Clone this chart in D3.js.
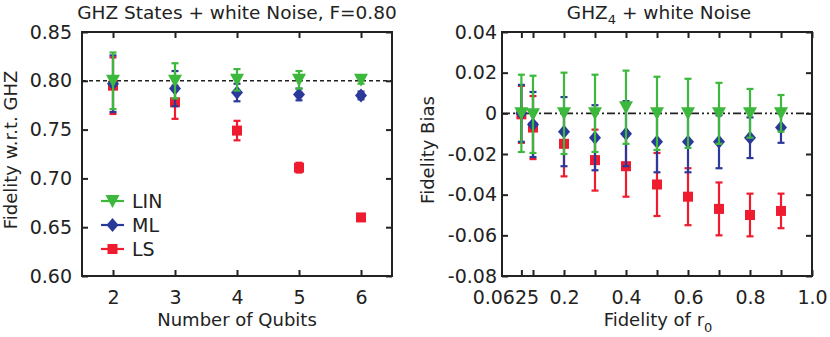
<!DOCTYPE html>
<html>
<head>
<meta charset="utf-8">
<script src="https://cdnjs.cloudflare.com/ajax/libs/d3/7.8.5/d3.min.js"></script>
<style>
    body { margin: 0; background: #fff; }
    text { font-family: "DejaVu Sans", sans-serif; fill: #222; }
</style>
</head>
<body>
<div id="main"></div>
<script>

// left panel: GHZ states, F = 0.80
const qubits = [2, 3, 4, 5, 6];
const linQ = [0.800, 0.800, 0.801, 0.801, 0.801];
const linQErr = [0.029, 0.018, 0.011, 0.009, 0.004];
const mlQ = [0.797, 0.792, 0.788, 0.786, 0.785];
const mlQErr = [0.029, 0.018, 0.009, 0.006, 0.004];
const lsQ = [0.795, 0.778, 0.749, 0.711, 0.660];
const lsQErr = [0.029, 0.017, 0.010, 0.005, 0.002];

// right panel: GHZ4, bias vs fidelity of r0
const fid = [0.0625, 0.1, 0.2, 0.3, 0.4, 0.5, 0.6, 0.7, 0.8, 0.9];
const linB = [0.000, -0.0005, 0.000, 0.000, 0.003, 0.000, 0.000, 0.000, 0.000, 0.000];
const linBErr = [0.019, 0.019, 0.020, 0.019, 0.018, 0.018, 0.017, 0.015, 0.012, 0.009];
const mlB = [0.000, -0.0055, -0.009, -0.012, -0.010, -0.014, -0.014, -0.014, -0.012, -0.007];
const mlBErr = [0.014, 0.016, 0.017, 0.016, 0.016, 0.015, 0.015, 0.013, 0.010, 0.0075];
const lsB = [-0.0005, -0.007, -0.015, -0.023, -0.026, -0.035, -0.041, -0.047, -0.050, -0.048];
const lsBErr = [0.014, 0.0155, 0.016, 0.015, 0.015, 0.0155, 0.014, 0.013, 0.0105, 0.0085];

const legendNames = ["LIN", "ML", "LS"];
const leftYTicks = [0.60, 0.65, 0.70, 0.75, 0.80, 0.85];
const rightYTicks = [-0.08, -0.06, -0.04, -0.02, 0, 0.02, 0.04];
const rightXTicks = [0.0625, 0.1, 0.2, 0.3, 0.4, 0.5, 0.6, 0.7, 0.8, 0.9, 1.0];
const rightXLabels = [0.0625, 0.2, 0.4, 0.6, 0.8, 1.0];

const colors = {LIN: "#3cb93c", ML: "#2b3a9a", LS: "#ee1c2e"};

const w = 830;
const h = 337;
const plotTop = 32, plotBottom = 276;

const svg = d3.select("#main").append("svg").attr("width", w).attr("height", h);

function drawMarker(g, type, x, y) {
    const c = colors[type];
    if (type === "LIN") {
        g.append("path").attr("d", `M${x-7},${y-6}L${x+7},${y-6}L${x},${y+7}Z`).attr("fill", c);
    } else if (type === "ML") {
        g.append("path").attr("d", `M${x},${y-7}L${x+6},${y}L${x},${y+7}L${x-6},${y}Z`).attr("fill", c);
    } else {
        g.append("rect").attr("x", x-5).attr("y", y-5).attr("width", 10).attr("height", 10).attr("fill", c);
    }
}

function drawSeries(g, xs, ys, errs, type, xScale, yScale) {
    const c = colors[type];
    xs.forEach((xv, i) => {
        const x = xScale(xv);
        const y1 = yScale(ys[i] + errs[i]);
        const y2 = yScale(ys[i] - errs[i]);
        g.append("line").attr("x1", x).attr("x2", x).attr("y1", y1).attr("y2", y2)
            .attr("stroke", c).attr("stroke-width", 2.2);
        [y1, y2].forEach(yy => {
            g.append("line").attr("x1", x-3.5).attr("x2", x+3.5).attr("y1", yy).attr("y2", yy)
                .attr("stroke", c).attr("stroke-width", 2.2);
        });
    });
    xs.forEach((xv, i) => drawMarker(g, type, xScale(xv), yScale(ys[i])));
}

function drawFrame(xScale, yScale, xTicks, xFmt, yTicks, yFmt, yPad) {
    const [x0, x1] = xScale.range();
    const axes = svg.append("g");

    axes.append("g").attr("transform", `translate(0,${plotBottom})`)
        .call(d3.axisBottom(xScale).tickValues(xTicks).tickSizeInner(-6).tickSizeOuter(0).tickPadding(15).tickFormat(xFmt));
    axes.append("g").attr("transform", `translate(0,${plotTop})`)
        .call(d3.axisTop(xScale).tickValues(xTicks).tickSizeInner(-6).tickSizeOuter(0).tickFormat(""));
    axes.append("g").attr("transform", `translate(${x0},0)`)
        .call(d3.axisLeft(yScale).tickValues(yTicks).tickSizeInner(-6).tickSizeOuter(0).tickPadding(yPad).tickFormat(yFmt));
    axes.append("g").attr("transform", `translate(${x1},0)`)
        .call(d3.axisRight(yScale).tickValues(yTicks).tickSizeInner(-6).tickSizeOuter(0).tickFormat(""));

    axes.selectAll(".domain").remove();
    axes.selectAll(".tick line").attr("stroke", "#222").attr("stroke-width", 2);
    axes.selectAll(".tick text").style("font-size", "19px").attr("fill", "#222")
        .style("font-family", "'DejaVu Sans', sans-serif");

    svg.append("rect").attr("x", x0).attr("y", plotTop).attr("width", x1 - x0).attr("height", plotBottom - plotTop)
        .attr("fill", "none").attr("stroke", "#222").attr("stroke-width", 2);
    return axes;
}

// ---------- left panel
const xL = d3.scaleLinear().domain([1.5, 6.5]).range([82, 392]);
const yL = d3.scaleLinear().domain([0.60, 0.85]).range([plotBottom, plotTop]);

const gL = svg.append("g");
gL.append("line").attr("x1", 82).attr("x2", 392).attr("y1", yL(0.80)).attr("y2", yL(0.80))
    .attr("stroke", "#222").attr("stroke-width", 1.6).attr("stroke-dasharray", "4,3");
drawSeries(gL, qubits, lsQ, lsQErr, "LS", xL, yL);
drawSeries(gL, qubits, mlQ, mlQErr, "ML", xL, yL);
drawSeries(gL, qubits, linQ, linQErr, "LIN", xL, yL);

drawFrame(xL, yL, qubits, d3.format("d"), leftYTicks, d3.format(".2f"), 10);

svg.append("text").attr("x", 237).attr("y", 19).attr("text-anchor", "middle")
    .style("font-size", "18.5px").text("GHZ States + white Noise, F=0.80");
svg.append("text").attr("x", 237).attr("y", 326).attr("text-anchor", "middle")
    .style("font-size", "18px").text("Number of Qubits");
svg.append("text").attr("transform", "translate(17,150) rotate(-90)").attr("text-anchor", "middle")
    .style("font-size", "18px").text("Fidelity w.r.t. GHZ");

// legend
const legend = svg.append("g");
legendNames.forEach((name, i) => {
    const ly = 201 + i * 24;
    legend.append("line").attr("x1", 101).attr("x2", 124).attr("y1", ly).attr("y2", ly)
        .attr("stroke", colors[name]).attr("stroke-width", 2.2);
    drawMarker(legend, name, 112.5, ly);
    legend.append("text").attr("x", 132).attr("y", ly + 7).style("font-size", "19px").text(name);
});

// ---------- right panel
const xR = d3.scaleLinear().domain([0, 1]).range([502, 812]);
const yR = d3.scaleLinear().domain([-0.08, 0.04]).range([plotBottom, plotTop]);

const gR = svg.append("g");
gR.append("line").attr("x1", 502).attr("x2", 812).attr("y1", yR(0)).attr("y2", yR(0))
    .attr("stroke", "#222").attr("stroke-width", 1.6).attr("stroke-dasharray", "8,3,2,3,2,3");
drawSeries(gR, fid, lsB, lsBErr, "LS", xR, yR);
drawSeries(gR, fid, mlB, mlBErr, "ML", xR, yR);
drawSeries(gR, fid, linB, linBErr, "LIN", xR, yR);

const rightXFmt = d => !rightXLabels.includes(d) ? "" : (d === 0.0625 ? "0.0625" : d3.format(".1f")(d));
const rightYFmt = d => d === 0 ? "0" : d3.format(".2f")(d).replace("\u2212", "-");
const axR = drawFrame(xR, yR, rightXTicks, rightXFmt, rightYTicks, rightYFmt, 5);
axR.selectAll(".tick text").filter(d => d === 0.0625).attr("dx", -16);

const tR = svg.append("text").attr("x", 659).attr("y", 19).attr("text-anchor", "middle").style("font-size", "18.5px");
tR.append("tspan").text("GHZ");
tR.append("tspan").attr("dy", 5).style("font-size", "13px").text("4");
tR.append("tspan").attr("dy", -5).text(" + white Noise");

const xlR = svg.append("text").attr("x", 658).attr("y", 326).attr("text-anchor", "middle").style("font-size", "18px");
xlR.append("tspan").text("Fidelity of r");
xlR.append("tspan").attr("dy", 6).style("font-size", "13px").text("0");

svg.append("text").attr("transform", "translate(434,150) rotate(-90)").attr("text-anchor", "middle")
    .style("font-size", "18px").text("Fidelity Bias");

</script>
</body>
</html>
